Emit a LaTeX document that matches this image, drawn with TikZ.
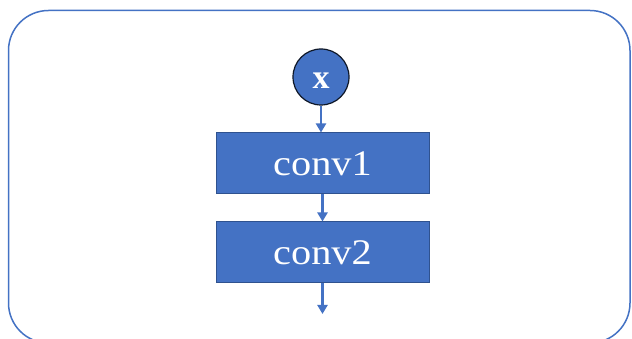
\documentclass[tikz,border=0pt]{standalone}
\usepackage{fontspec}
\setmainfont{Liberation Serif}
\usetikzlibrary{arrows.meta}
\definecolor{office}{HTML}{4472C4}
\definecolor{officedark}{HTML}{2F528F}
% slightly widened label text
\newcommand{\widetext}[1]{\scalebox{1.12}[1]{#1}}
\begin{document}
\begin{tikzpicture}[x=1pt,y=1pt,
  block/.style={draw=officedark, line width=1pt, fill=office, text=white,
    minimum width=213pt, minimum height=61pt, inner sep=0pt,
    font=\fontsize{36}{36}\selectfont},
  inputnode/.style={circle, draw=black!80!office, line width=1.2pt, fill=office,
    text=white, minimum size=56pt, inner sep=0pt,
    font=\fontsize{34}{34}\selectfont\bfseries},
  flow/.style={draw=office, line width=2.2pt,
    -{Triangle[length=9pt,width=10pt]}}]
  \useasboundingbox (0,0) rectangle (632,339);
  \clip (0,0) rectangle (632,339);
  \fill[white] (0,0) rectangle (632,339);
  % outer frame
  \draw[office, line width=1.5pt, rounded corners=40pt]
    (8.5,328.5) rectangle (630,-4);
  % nodes
  \node[inputnode] (x) at (321,262) {\raisebox{-12pt}[0pt][0pt]{x}};
  \node[block] (c1) at (322.5,175.5) {\widetext{conv1}};
  \node[block] (c2) at (322.5,86.5) {\widetext{conv2}};
  \coordinate (out) at (322.5,25);
  % connectors
  \draw[flow] (x) -- (x |- c1.north);
  \draw[flow] (c1) -- (c2);
  \draw[flow] (c2) -- (out);
\end{tikzpicture}
\end{document}
